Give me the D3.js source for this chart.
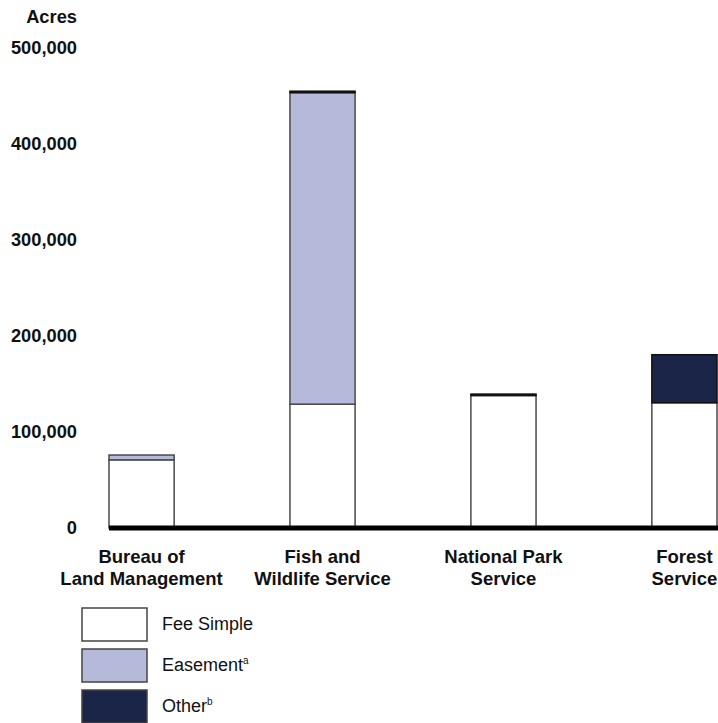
<!DOCTYPE html>
<html lang="en">
<head>
<meta charset="utf-8">
<title>Acres by agency</title>
<script src="https://cdn.jsdelivr.net/npm/d3@7"></script>
<style>
    body { margin: 0; background: #fff; }
    svg text { font-family: "Liberation Sans", Arial, sans-serif; fill: #111; }
    .axis text { font-weight: bold; font-size: 18.3px; }
    .cat text { font-weight: bold; font-size: 18.5px; }
    .legend text { font-size: 18px; }
</style>
</head>
<body>
<script>
// data
var agencies = [["Bureau of", "Land Management"], ["Fish and", "Wildlife Service"], ["National Park", "Service"], ["Forest", "Service"]];
var feeSimple = [71000, 129000, 138000, 130500];
var easement  = [5000, 324500, 0, 0];
var other     = [0, 1500, 1500, 50000];
var yTicks = [0, 100000, 200000, 300000, 400000, 500000];
var seriesNames = ["Fee Simple", "Easement", "Other"];
var seriesSup = ["", "a", "b"];
var seriesColors = ["#ffffff", "#b5b9da", "#1a2547"];

var w = 718, h = 723;

var svg = d3.select("body").append("svg")
    .attr("width", w)
    .attr("height", h);

var x = d3.scaleBand()
    .domain(d3.range(agencies.length))
    .range([109, 717])
    .paddingInner(0.64)
    .paddingOuter(0);

var y = d3.scaleLinear()
    .domain([0, 500000])
    .range([528, 48]);

// stack the three series
var rows = agencies.map(function(a, i) {
    return { i: i, fee: feeSimple[i], eas: easement[i], oth: other[i] };
});
var stack = d3.stack().keys(["fee", "eas", "oth"]);
var layers = stack(rows);

svg.selectAll("g.layer")
    .data(layers)
    .enter()
    .append("g")
    .attr("class", "layer")
    .attr("fill", function(d, k) { return seriesColors[k]; })
    .selectAll("rect")
    .data(function(d) { return d.filter(function(s) { return s[1] - s[0] > 0; }); })
    .enter()
    .append("rect")
    .attr("x", function(d) { return x(d.data.i); })
    .attr("width", x.bandwidth())
    .attr("y", function(d) { return y(d[1]); })
    .attr("height", function(d) { return y(d[0]) - y(d[1]); })
    .attr("stroke", function(d) { return this.parentNode.__data__.key === "oth" ? "#111" : "#4a4a4a"; })
    .attr("stroke-width", 1.5);

// baseline
svg.append("line")
    .attr("x1", x(0))
    .attr("x2", w)
    .attr("y1", y(0))
    .attr("y2", y(0))
    .attr("stroke", "#000")
    .attr("stroke-width", 5);

// y axis, labels only
var yAxis = d3.axisLeft(y)
    .tickValues(yTicks)
    .tickSize(0)
    .tickPadding(3)
    .tickFormat(d3.format(","));

var gy = svg.append("g")
    .attr("class", "axis")
    .attr("transform", "translate(80,0)")
    .call(yAxis);
gy.select(".domain").remove();
gy.selectAll("text").attr("fill", "#111");

svg.append("text")
    .attr("x", 77)
    .attr("y", 23)
    .attr("text-anchor", "end")
    .style("font-weight", "bold")
    .style("font-size", "18.3px")
    .text("Acres");

// category labels
var cat = svg.append("g").attr("class", "cat");
cat.selectAll("text")
    .data(agencies)
    .enter()
    .append("text")
    .attr("text-anchor", "middle")
    .attr("transform", function(d, i) { return "translate(" + (x(i) + x.bandwidth() / 2) + ",563)"; })
    .selectAll("tspan")
    .data(function(d) { return d; })
    .enter()
    .append("tspan")
    .attr("x", 0)
    .attr("y", function(d, j) { return j * 21.5; })
    .text(function(d) { return d; });

// legend
var legend = svg.append("g")
    .attr("class", "legend")
    .attr("transform", "translate(82,608)");

var item = legend.selectAll("g")
    .data(seriesNames)
    .enter()
    .append("g")
    .attr("transform", function(d, i) { return "translate(0," + (i * 41) + ")"; });

item.append("rect")
    .attr("width", 65)
    .attr("height", 33)
    .attr("fill", function(d, i) { return seriesColors[i]; })
    .attr("stroke", "#444")
    .attr("stroke-width", 1.5);

var lt = item.append("text")
    .attr("x", 80)
    .attr("y", 22);
lt.append("tspan").text(function(d) { return d; });
lt.append("tspan")
    .attr("dy", -7)
    .style("font-size", "10px")
    .text(function(d, i) { return seriesSup[i]; });
</script>
</body>
</html>
